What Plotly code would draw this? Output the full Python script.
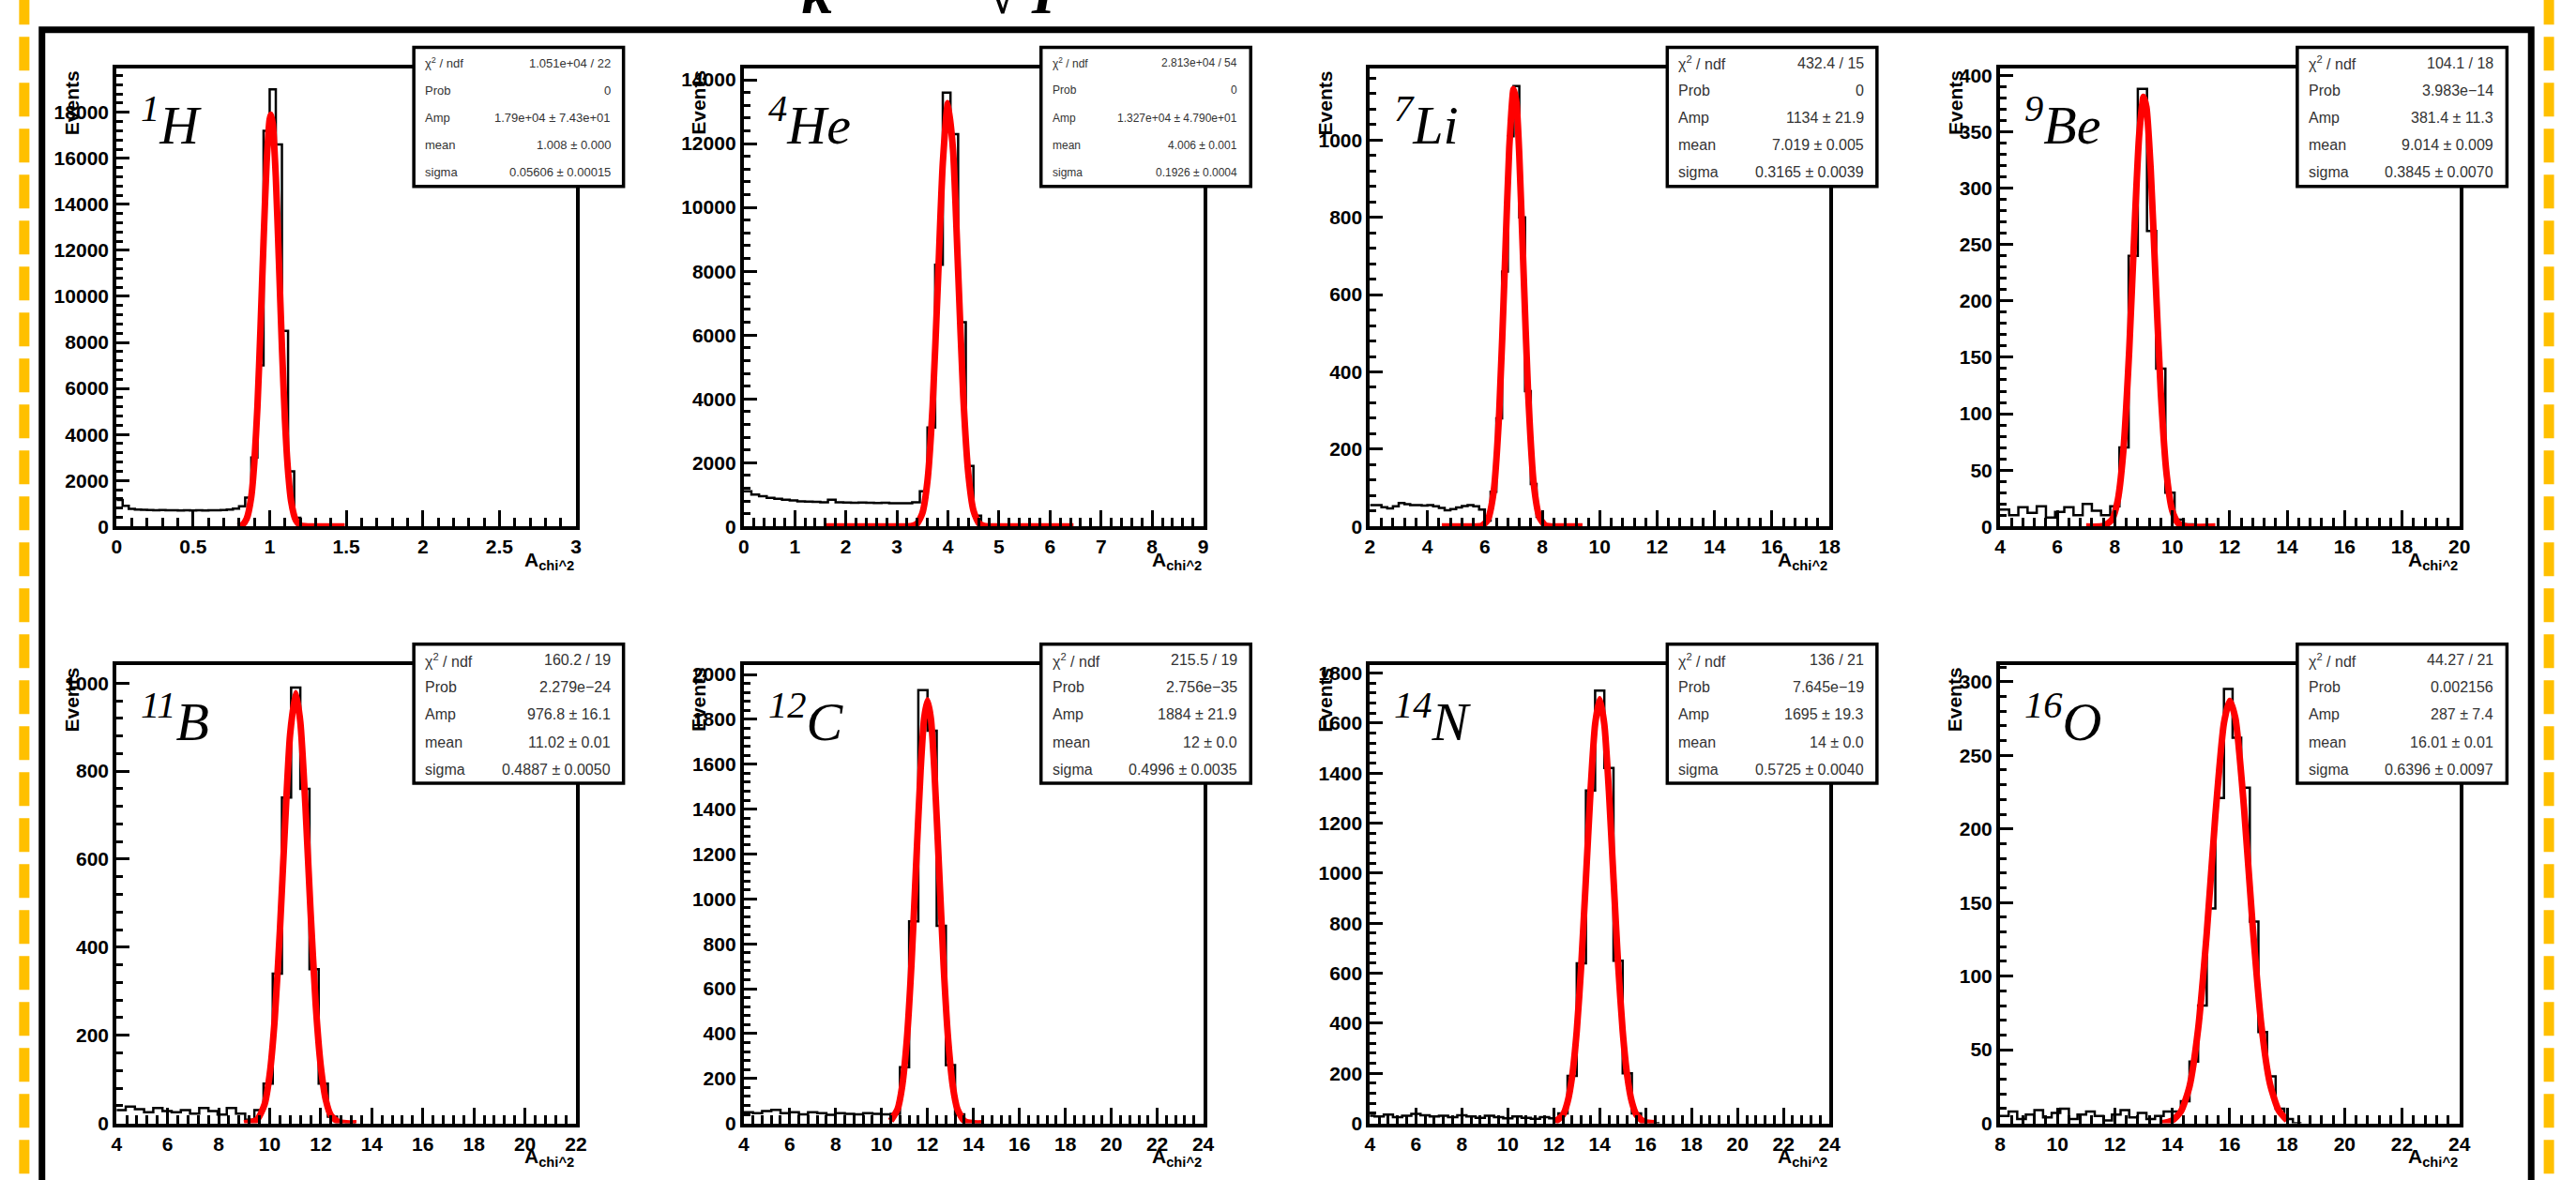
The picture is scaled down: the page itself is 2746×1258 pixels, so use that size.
import plotly.graph_objects as go

W, H = 2746, 1258

# ---------------- data ----------------
mass_numbers = ["1", "4", "7", "9", "11", "12", "14", "16"]
symbols = ["H", "He", "Li", "Be", "B", "C", "N", "O"]

x_ranges = [(0, 3), (0, 9), (2, 18), (4, 20), (4, 22), (4, 24), (4, 24), (8, 24)]
y_max = [19900, 14350, 1185, 406, 1040, 2040, 1830, 311]
x_dtick = [0.5, 1, 2, 2, 2, 2, 2, 2]
x_minor = [0.1, 0.2, 0.4, 0.4, 0.4, 0.4, 0.4, 0.4]
y_dtick = [2000, 2000, 200, 50, 200, 200, 200, 50]
y_minor = [400, 400, 40, 10, 40, 40, 40, 10]

# histograms: first bin low edge, bin width, bin contents
hist_start = [0.0, 0.0, 2.0, 4.0, 4.0, 4.0, 3.8, 8.0]
hist_width = [0.04, 0.15, 0.2, 0.32, 0.36, 0.4, 0.4, 0.3]
hist_H = [1150, 900, 770, 730, 720, 715, 700, 710, 700, 705, 695, 700, 690, 700, 695,
          700, 705, 710, 730, 780, 880, 1250, 3000, 7000, 17200, 19000, 16600, 8500,
          2400, 380, 60, 15, 5, 2, 0]
hist_He = [1100, 1000, 950, 900, 870, 840, 820, 790, 780, 770, 760, 840, 760, 750, 745,
           750, 740, 735, 740, 730, 725, 730, 760, 1100, 3100, 8200, 13600, 12300, 6400,
           1900, 340, 60, 15, 6, 3, 2, 1]
hist_Li = [55, 55, 50, 47, 52, 61, 58, 55, 55, 54, 55, 52, 48, 42, 45, 49, 53, 55, 52, 44,
           15, 90, 280, 660, 1010, 1140, 800, 350, 110, 25, 4, 1, 0]
hist_Be = [15, 10, 17, 12, 18, 8, 13, 17, 10, 20, 14, 10, 18, 70, 240, 388, 262, 140, 30,
           6, 2, 0]
hist_B = [30, 38, 32, 25, 35, 28, 25, 30, 22, 35, 28, 20, 35, 22, 8, 30, 90, 340, 740,
          990, 760, 350, 90, 15, 3, 0]
hist_C = [50, 45, 55, 60, 45, 50, 40, 50, 45, 38, 45, 42, 40, 45, 42, 40, 42, 250, 900,
          1930, 1750, 880, 260, 40, 6, 0]
hist_N = [30, 28, 35, 25, 30, 38, 32, 28, 30, 25, 32, 28, 22, 30, 25, 20, 28, 22, 18, 25,
          20, 40, 190, 640, 1330, 1730, 1420, 650, 200, 40, 5, 0]
hist_O = [5, 8, 3, 6, 9, 4, 7, 10, 3, 6, 8, 5, 2, 6, 9, 4, 7, 3, 5, 8, 8, 15, 42, 80, 146,
          221, 295, 262, 228, 137, 62, 32, 10, 3, 0]
hist_counts = [hist_H, hist_He, hist_Li, hist_Be, hist_B, hist_C, hist_N, hist_O]

# red fitted curves
fit_x_H = [0.79, 0.82, 0.85, 0.88, 0.90, 0.92, 0.94, 0.96, 0.98, 1.00, 1.008, 1.02, 1.04,
           1.06, 1.08, 1.10, 1.12, 1.14, 1.17, 1.20, 1.25, 1.35, 1.49]
fit_y_H = [10, 60, 340, 1300, 2800, 5200, 8600, 12400, 15800, 17700, 17900, 17500, 15200,
           11600, 7800, 4600, 2400, 1100, 280, 50, 2, 0, 0]
fit_x_He = [1.6, 3.0, 3.2, 3.3, 3.4, 3.5, 3.6, 3.7, 3.8, 3.9, 4.0, 4.1, 4.2, 4.3, 4.4, 4.5,
            4.6, 4.7, 4.8, 5.0, 6.46]
fit_y_He = [0, 0, 2, 16, 95, 420, 1440, 3760, 7500, 11400, 13270, 11800, 8000, 4100, 1650,
            500, 115, 20, 2, 0, 0]
fit_x_Li = [4.5, 5.5, 5.9, 6.1, 6.3, 6.5, 6.7, 6.85, 7.0, 7.1, 7.2, 7.35, 7.5, 7.7, 7.9,
            8.1, 8.3, 8.6, 9.4]
fit_y_Li = [0, 0, 2, 17, 86, 295, 680, 980, 1132, 1097, 960, 655, 357, 112, 24, 3, 0, 0, 0]
fit_x_Be = [7.0, 7.6, 7.9, 8.1, 8.3, 8.5, 8.7, 8.85, 9.0, 9.1, 9.25, 9.4, 9.6, 9.8, 10.0,
            10.2, 10.5, 11.5]
fit_y_Be = [0, 0.5, 6, 23, 68, 156, 273, 348, 381, 372, 316, 230, 119, 47, 14, 3, 0, 0]
fit_x_B = [9.0, 9.5, 9.8, 10.0, 10.2, 10.4, 10.6, 10.8, 11.02, 11.2, 11.4, 11.6, 11.8,
           12.0, 12.2, 12.4, 12.7, 13.0, 13.4]
fit_y_B = [0, 8, 43, 111, 239, 437, 675, 883, 977, 912, 722, 483, 273, 131, 53, 18, 3, 0, 0]
fit_x_C = [10.4, 10.7, 10.9, 11.1, 11.3, 11.5, 11.7, 11.85, 12.0, 12.15, 12.3, 12.5, 12.7,
           12.9, 13.1, 13.3, 13.6, 14.0, 14.4]
fit_y_C = [11, 64, 167, 372, 706, 1142, 1573, 1801, 1884, 1801, 1573, 1142, 706, 372, 167,
           64, 11, 0.5, 0]
fit_x_N = [12.05, 12.4, 12.6, 12.8, 13.0, 13.2, 13.4, 13.6, 13.8, 14.0, 14.2, 14.4, 14.6,
           14.8, 15.0, 15.2, 15.4, 15.6, 15.95, 16.4]
fit_y_N = [5, 34, 85, 189, 369, 638, 979, 1328, 1595, 1695, 1595, 1328, 979, 638, 369, 189,
           85, 34, 5, 0]
fit_x_O = [13.6, 14.0, 14.3, 14.6, 14.9, 15.2, 15.5, 15.8, 16.0, 16.2, 16.5, 16.8, 17.1,
           17.4, 17.7, 18.0]
fit_y_O = [0, 2, 8, 25, 64, 129, 209, 272, 287, 275, 214, 134, 67, 27, 9, 2]
fit_x = [fit_x_H, fit_x_He, fit_x_Li, fit_x_Be, fit_x_B, fit_x_C, fit_x_N, fit_x_O]
fit_y = [fit_y_H, fit_y_He, fit_y_Li, fit_y_Be, fit_y_B, fit_y_C, fit_y_N, fit_y_O]

stat_labels = ["χ<sup>2</sup> / ndf", "Prob", "Amp", "mean", "sigma"]
stat_values = [
    ["1.051e+04 / 22", "0", "1.79e+04 ± 7.43e+01", "1.008 ± 0.000", "0.05606 ± 0.00015"],
    ["2.813e+04 / 54", "0", "1.327e+04 ± 4.790e+01", "4.006 ± 0.001", "0.1926 ± 0.0004"],
    ["432.4 / 15", "0", "1134 ± 21.9", "7.019 ± 0.005", "0.3165 ± 0.0039"],
    ["104.1 / 18", "3.983e−14", "381.4 ± 11.3", "9.014 ± 0.009", "0.3845 ± 0.0070"],
    ["160.2 / 19", "2.279e−24", "976.8 ± 16.1", "11.02 ± 0.01", "0.4887 ± 0.0050"],
    ["215.5 / 19", "2.756e−35", "1884 ± 21.9", "12 ± 0.0", "0.4996 ± 0.0035"],
    ["136 / 21", "7.645e−19", "1695 ± 19.3", "14 ± 0.0", "0.5725 ± 0.0040"],
    ["44.27 / 21", "0.002156", "287 ± 7.4", "16.01 ± 0.01", "0.6396 ± 0.0097"],
]
stat_font_size = [13, 12, 16, 16, 16, 16, 16, 16]

y_title = "Events"
x_title = "A<sub>chi^2</sub>"
formula_parts = ["<i>κ</i>", "√", "<i>I</i>"]

# ---------------- layout geometry (pixels) ----------------
col_left = [119, 792, 1464, 2140]
plot_w = 493
row_top = [70, 714]
plot_h = 494
formula_x = [872, 1070, 1114]


def px(x):
    return x / W


def py(y):
    return 1 - y / H


fig = go.Figure()
annotations = []
shapes = []

axis_font = dict(family="Liberation Sans", size=21, color="black", weight="bold")

for i in range(8):
    r, c = divmod(i, 4)
    L = col_left[c]
    R = L + plot_w
    T = row_top[r]
    B = T + plot_h
    xa = "x" if i == 0 else f"x{i + 1}"
    ya = "y" if i == 0 else f"y{i + 1}"
    xkey = "xaxis" if i == 0 else f"xaxis{i + 1}"
    ykey = "yaxis" if i == 0 else f"yaxis{i + 1}"

    counts = hist_counts[i]
    x0, w = hist_start[i], hist_width[i]
    hx = [round(x0 + k * w, 4) for k in range(len(counts) + 1)]
    hy = counts + [counts[-1]]
    fig.add_trace(go.Scatter(x=hx, y=hy, mode="lines", line=dict(color="black", width=2.5, shape="hv"),
                             xaxis=xa, yaxis=ya, hoverinfo="skip"))
    fig.add_trace(go.Scatter(x=fit_x[i], y=fit_y[i], mode="lines",
                             line=dict(color="#ff0000", width=7, shape="spline", smoothing=0.6),
                             xaxis=xa, yaxis=ya, hoverinfo="skip"))

    xr = x_ranges[i]
    fig.layout[xkey] = dict(
        domain=[px(L), px(R)], anchor=ya, range=list(xr),
        tickmode="linear", tick0=xr[0], dtick=x_dtick[i],
        ticks="inside", ticklen=17, tickwidth=3, tickcolor="black",
        minor=dict(ticks="inside", ticklen=9, tickwidth=2.5, tickcolor="black",
                   tick0=xr[0], dtick=x_minor[i], showgrid=False),
        showline=True, linewidth=4, linecolor="black", mirror=True,
        showgrid=False, zeroline=False, tickfont=axis_font,
    )
    fig.layout[ykey] = dict(
        domain=[py(B), py(T)], anchor=xa, range=[0, y_max[i]],
        tickmode="linear", tick0=0, dtick=y_dtick[i], tickformat="d",
        ticks="inside", ticklen=14, tickwidth=3, tickcolor="black",
        minor=dict(ticks="inside", ticklen=7, tickwidth=2.5, tickcolor="black",
                   tick0=0, dtick=y_minor[i], showgrid=False),
        showline=True, linewidth=4, linecolor="black", mirror=True,
        showgrid=False, zeroline=False, tickfont=axis_font,
    )

    # stat box
    bR = R + 51
    bL = bR - 225
    bT = T - 23
    bB = bT + 150
    shapes.append(dict(type="rect", xref="paper", yref="paper",
                       x0=px(bL), x1=px(bR), y0=py(bB), y1=py(bT),
                       fillcolor="white", line=dict(color="black", width=3.5), layer="above"))
    for k in range(5):
        yy = bT + 17 + k * 29.5
        annotations.append(dict(text=stat_labels[k], x=px(bL + 10), y=py(yy), xref="paper",
                                yref="paper", xanchor="left", yanchor="middle", showarrow=False,
                                font=dict(family="Liberation Sans", size=stat_font_size[i],
                                          color="#333333")))
        annotations.append(dict(text=stat_values[i][k], x=px(bR - 12), y=py(yy), xref="paper",
                                yref="paper", xanchor="right", yanchor="middle", showarrow=False,
                                font=dict(family="Liberation Sans", size=stat_font_size[i],
                                          color="#333333")))

    # nucleus label
    annotations.append(dict(text=f"<i><sup>{mass_numbers[i]}</sup>{symbols[i]}</i>",
                            x=px(L + 24), y=py(T + 18), xref="paper", yref="paper",
                            xanchor="left", yanchor="top", showarrow=False,
                            font=dict(family="Liberation Serif", size=58, color="black")))
    # y title
    annotations.append(dict(text=y_title, textangle=-90, x=px(L - 48), y=py(T),
                            xref="paper", yref="paper", xanchor="center", yanchor="top",
                            showarrow=False,
                            font=dict(family="Liberation Sans", size=21, color="black",
                                      weight="bold")))
    # x title
    annotations.append(dict(text=x_title, x=px(R), y=py(B + 22), xref="paper", yref="paper",
                            xanchor="right", yanchor="top", showarrow=False,
                            font=dict(family="Liberation Sans", size=21, color="black",
                                      weight="bold")))

# partially visible formula at the very top (cut by the page edge)
for txt, xc in zip(formula_parts, formula_x):
    annotations.append(dict(text=txt, x=px(xc), y=py(26), xref="paper", yref="paper",
                            xanchor="center", yanchor="bottom", showarrow=False,
                            font=dict(family="Liberation Serif", size=64, color="black",
                                      weight="bold")))

# outer black frame
shapes.append(dict(type="rect", xref="paper", yref="paper", x0=px(39), x1=px(2710),
                   y0=py(1300), y1=py(28), line=dict(color="black", width=7), layer="above"))
# yellow dashed side borders
for xv in (20, 2729):
    shapes.append(dict(type="line", xref="paper", yref="paper", x0=px(xv), x1=px(xv),
                       y0=py(-14), y1=py(1290),
                       line=dict(color="#FFC000", width=11, dash="36px,13px"), layer="above"))

fig.update_layout(
    width=W, height=H, margin=dict(l=0, r=0, t=0, b=0),
    paper_bgcolor="white", plot_bgcolor="white", showlegend=False,
    font=dict(family="Liberation Sans"),
    annotations=annotations, shapes=shapes,
)

fig.write_html("out.html", config={"displayModeBar": False},
               post_script="document.body.style.margin='0';document.body.style.overflow='hidden';")
